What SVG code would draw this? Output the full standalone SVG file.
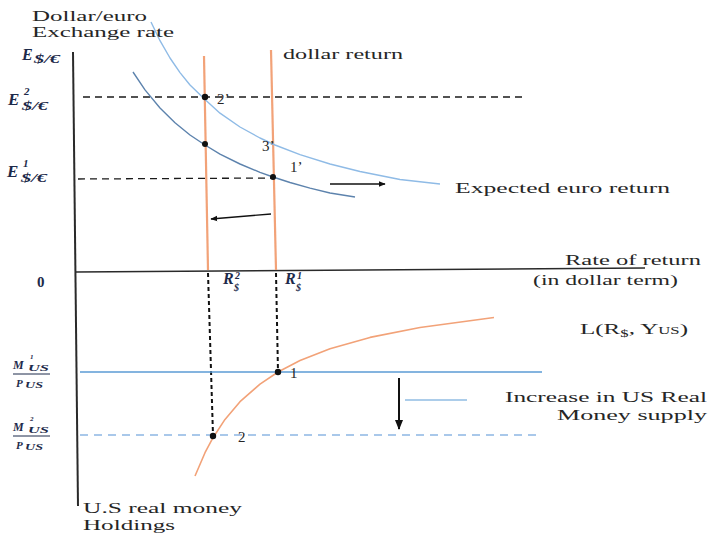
<svg xmlns="http://www.w3.org/2000/svg" width="709" height="533" viewBox="0 0 709 533">
<style>
  .t { font-family: "Liberation Serif", "Times New Roman", serif; fill: #262626; font-size: 15px; }
  .m { font-family: "Liberation Serif", "Times New Roman", serif; fill: #1d2a4a; font-style: italic; font-weight: bold; }
  .n { font-family: "Liberation Serif", "Times New Roman", serif; fill: #1d2a4a; font-weight: bold; }
  .axis { stroke: #2a2a2a; fill: none; }
  .orange { stroke: #f2a278; stroke-width: 2.2; fill: none; }
  .dash { stroke: #1a1a1a; stroke-width: 1.3; stroke-dasharray: 7 5; fill: none; }
  .dot { fill: #111; }
  .arrow { stroke: #111; stroke-width: 1.4; fill: none; }
</style>
<defs>
  <marker id="ah" viewBox="0 0 10 10" refX="9" refY="5" markerWidth="7" markerHeight="7" orient="auto" markerUnits="userSpaceOnUse">
    <path d="M0,1 L10,5 L0,9 Z" fill="#111"/>
  </marker>
  <marker id="ahd" viewBox="0 0 10 10" refX="9" refY="5" markerWidth="10" markerHeight="10" orient="auto" markerUnits="userSpaceOnUse">
    <path d="M0,1 L10,5 L0,9 Z" fill="#111"/>
  </marker>
</defs>
<rect width="709" height="533" fill="#ffffff"/>

<g id="axes">
  <line class="axis" x1="73" y1="52" x2="78" y2="506" stroke-width="2"/>
  <line class="axis" x1="76" y1="272" x2="645" y2="268" stroke-width="1.5"/>
</g>

<g id="connectors">
  <line class="dash" x1="83" y1="97" x2="527" y2="97"/>
  <line class="dash" x1="78" y1="179" x2="273" y2="178" stroke="#444"/>
  <line x1="208" y1="273" x2="213" y2="435" stroke="#111" stroke-width="2" stroke-dasharray="4 3"/>
  <line x1="276" y1="273" x2="278" y2="372" stroke="#111" stroke-width="2" stroke-dasharray="4 3"/>
  <line class="arrow" x1="330" y1="184" x2="385" y2="184" marker-end="url(#ah)"/>
  <line class="arrow" x1="271" y1="214" x2="211" y2="219" marker-end="url(#ah)"/>
  <line x1="399" y1="378" x2="399" y2="429" stroke="#111" stroke-width="2" marker-end="url(#ahd)"/>
</g>

<g id="dollar-return">
  <line class="orange" x1="204" y1="56" x2="208" y2="270"/>
  <line class="orange" x1="271" y1="50" x2="276" y2="270"/>
  <text class="t" x="283" y="59" textLength="120" lengthAdjust="spacingAndGlyphs">dollar return</text>
</g>

<g id="euro-return-new">
  <polyline fill="none" stroke="#8fbbe6" stroke-width="1.4" stroke-linejoin="round" points="151,22 160,40.7 170,58 180,72.6 190,85 205,99.5 220,113.2 240,127 260,138 275,145 300,154.7 330,164 360,171.5 400,179.5 440,184"/>
  <text class="t" x="455" y="193" textLength="215" lengthAdjust="spacingAndGlyphs">Expected euro return</text>
</g>

<g id="euro-return-old">
  <polyline fill="none" stroke="#5d83ad" stroke-width="1.4" stroke-linejoin="round" points="133,72 145,89.9 160,108 175,122.8 190,135 205,145 220,154.1 240,164 260,172.3 273,177 290,182.5 310,188.1 330,193 355,197"/>
</g>

<g id="points-upper">
  <circle class="dot" cx="205" cy="97" r="3.2"/>
  <circle class="dot" cx="205" cy="144" r="3"/>
  <circle class="dot" cx="273" cy="177" r="3"/>
  <text class="t" x="217" y="104" font-size="14">2’</text>
  <text class="t" x="262" y="151" font-size="14">3’</text>
  <text class="t" x="290" y="172" font-size="14">1’</text>
</g>

<g id="money-supply">
  <line x1="80" y1="372" x2="542" y2="372" stroke="#5b9bd5" stroke-width="1.4"/>
  <line x1="80" y1="435" x2="540" y2="435" stroke="#8db6e3" stroke-width="1.4" stroke-dasharray="8 6"/>
  <line x1="405" y1="400" x2="467" y2="400" stroke="#5b9bd5" stroke-width="1.2"/>
  <text class="t" x="505" y="402" textLength="202" lengthAdjust="spacingAndGlyphs">Increase in US Real</text>
  <text class="t" x="557" y="420" textLength="150" lengthAdjust="spacingAndGlyphs">Money supply</text>
</g>

<g id="money-demand">
  <polyline fill="none" stroke="#f2a278" stroke-width="1.6" stroke-linejoin="round" points="195,476 205,452.7 213,437.7 225,419.4 240,401.7 260,384.1 278,372 300,360.5 330,348.7 370,337.4 420,327.5 494,317.5"/>
  <text class="t" x="580" y="334" textLength="108" lengthAdjust="spacingAndGlyphs">L(R<tspan font-size="10" dy="3">$</tspan><tspan dy="-3">, Y</tspan><tspan font-size="10">US</tspan>)</text>
</g>

<g id="points-lower">
  <circle class="dot" cx="213" cy="436" r="3.2"/>
  <circle class="dot" cx="278" cy="372" r="3.2"/>
  <text class="t" x="290" y="378" font-size="14">1</text>
  <text class="t" x="238" y="442" font-size="14">2</text>
</g>

<g id="labels">
  <text class="t" x="32" y="21" textLength="115" lengthAdjust="spacingAndGlyphs">Dollar/euro</text>
  <text class="t" x="32" y="37" textLength="142" lengthAdjust="spacingAndGlyphs">Exchange rate</text>
  <text class="t" x="565" y="265" textLength="136" lengthAdjust="spacingAndGlyphs">Rate of return</text>
  <text class="t" x="533" y="285" textLength="145" lengthAdjust="spacingAndGlyphs">(in dollar term)</text>
  <text class="t" x="83" y="513" textLength="159" lengthAdjust="spacingAndGlyphs">U.S real money</text>
  <text class="t" x="83" y="530" textLength="92" lengthAdjust="spacingAndGlyphs">Holdings</text>
  <text class="n" x="37" y="287" font-size="15">0</text>

  <text class="m" x="22" y="60" font-size="16">E</text>
  <text class="m" x="34" y="63" font-size="12" textLength="26" lengthAdjust="spacingAndGlyphs">$/€</text>

  <text class="m" x="8" y="105" font-size="17">E</text>
  <text class="m" x="24" y="95" font-size="11">2</text>
  <text class="m" x="22" y="110" font-size="12" textLength="26" lengthAdjust="spacingAndGlyphs">$/€</text>

  <text class="m" x="7" y="177" font-size="17">E</text>
  <text class="m" x="23" y="167" font-size="11">1</text>
  <text class="m" x="21" y="182" font-size="12" textLength="26" lengthAdjust="spacingAndGlyphs">$/€</text>

  <text class="m" x="223" y="284" font-size="16">R</text>
  <text class="m" x="235" y="279" font-size="10">2</text>
  <text class="m" x="234" y="291" font-size="10">$</text>
  <text class="m" x="285" y="284" font-size="16">R</text>
  <text class="m" x="297" y="279" font-size="10">1</text>
  <text class="m" x="296" y="291" font-size="10">$</text>

  <text class="m" x="13" y="369" font-size="12">M</text>
  <text class="m" x="30" y="359" font-size="7">1</text>
  <text class="m" x="28" y="371" font-size="9" textLength="21" lengthAdjust="spacingAndGlyphs">US</text>
  <line x1="13" y1="374" x2="50" y2="374" stroke="#1d2a4a" stroke-width="1"/>
  <text class="m" x="16" y="387" font-size="11">P</text>
  <text class="m" x="25" y="388" font-size="9" textLength="18" lengthAdjust="spacingAndGlyphs">US</text>

  <text class="m" x="13" y="431" font-size="12">M</text>
  <text class="m" x="30" y="421" font-size="7">2</text>
  <text class="m" x="28" y="433" font-size="9" textLength="21" lengthAdjust="spacingAndGlyphs">US</text>
  <line x1="13" y1="436" x2="50" y2="436" stroke="#1d2a4a" stroke-width="1"/>
  <text class="m" x="16" y="449" font-size="11">P</text>
  <text class="m" x="25" y="450" font-size="9" textLength="18" lengthAdjust="spacingAndGlyphs">US</text>
</g>
</svg>
